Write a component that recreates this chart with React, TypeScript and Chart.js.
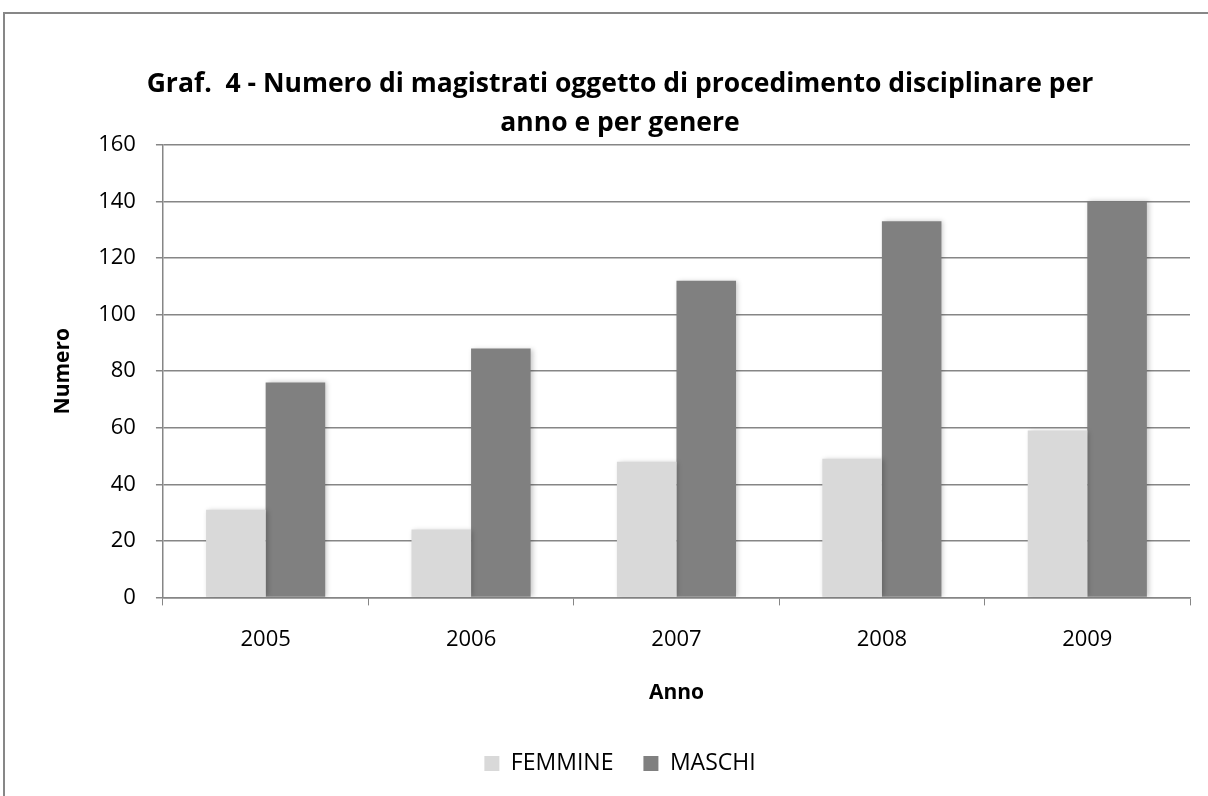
import React, { useEffect, useRef } from "react";
import { Chart, registerables } from "chart.js";

Chart.register(...registerables);

const years = ["2005", "2006", "2007", "2008", "2009"];
const femmine = [31, 24, 48, 49, 59];
const maschi = [76, 88, 112, 133, 140];
const titleLines = [
  "Graf.  4 - Numero di magistrati oggetto di procedimento disciplinare per",
  "anno e per genere",
];

const FONT = "'Open Sans', sans-serif";

const shadowPlugin = {
  id: "barShadow",
  beforeDatasetsDraw(chart: any) {
    const ctx = chart.ctx;
    ctx.save();
    ctx.shadowColor = "rgba(0,0,0,0.22)";
    ctx.shadowBlur = 5;
    ctx.shadowOffsetX = 2;
    ctx.shadowOffsetY = 0;
  },
  afterDatasetsDraw(chart: any) {
    chart.ctx.restore();
  },
};

export default function App() {
  const ref = useRef<HTMLCanvasElement | null>(null);
  useEffect(() => {
    document.body.style.margin = "0";
    const chart = new Chart(ref.current!, {
      type: "bar",
      data: {
        labels: years,
        datasets: [
          { label: "FEMMINE", data: femmine, backgroundColor: "#d9d9d9" },
          { label: "MASCHI", data: maschi, backgroundColor: "#808080" },
        ],
      },
      options: {
        animation: false,
        responsive: false,
        layout: { padding: { top: 65, left: 50, right: 18, bottom: 11 } },
        datasets: { bar: { categoryPercentage: 0.58, barPercentage: 1 } },
        plugins: {
          title: {
            display: true,
            text: titleLines,
            color: "#000",
            font: { family: FONT, size: 26.5, weight: "bold", lineHeight: 1.47 },
            padding: { top: 0, bottom: 2 },
          },
          legend: {
            position: "bottom",
            labels: {
              color: "#000",
              font: { family: FONT, size: 23 },
              boxWidth: 15,
              boxHeight: 15,
              padding: 30,
            },
          },
          tooltip: { enabled: false },
        },
        scales: {
          x: {
            grid: {
              display: true,
              drawOnChartArea: false,
              drawTicks: true,
              tickLength: 8,
              color: "#868686",
              offset: true,
            },
            border: { color: "#868686", width: 1.5 },
            ticks: { color: "#000", font: { family: FONT, size: 22 }, padding: 21 },
            title: {
              display: true,
              text: "Anno",
              color: "#000",
              font: { family: FONT, size: 21, weight: "bold" },
              padding: { top: 7, bottom: 16 },
            },
          },
          y: {
            min: 0,
            max: 160,
            ticks: { stepSize: 20, color: "#000", font: { family: FONT, size: 22 }, padding: 20 },
            grid: { color: "#868686", lineWidth: 1.5, tickLength: 7 },
            border: { color: "#868686", width: 1.5 },
            title: {
              display: true,
              text: "Numero",
              color: "#000",
              font: { family: FONT, size: 21, weight: "bold" },
              padding: { top: 0, bottom: 3 },
            },
          },
        },
      },
      plugins: [shadowPlugin],
    });
    return () => chart.destroy();
  }, []);
  return (
    <div style={{ position: "relative", width: 1208, height: 796, overflow: "hidden", background: "#fff" }}>
      <div
        style={{
          position: "absolute",
          left: 3,
          top: 12,
          width: 1260,
          height: 860,
          border: "2px solid #878787",
          boxSizing: "border-box",
        }}
      />
      <canvas ref={ref} width={1208} height={796} style={{ position: "absolute", left: 0, top: 0 }} />
    </div>
  );
}
